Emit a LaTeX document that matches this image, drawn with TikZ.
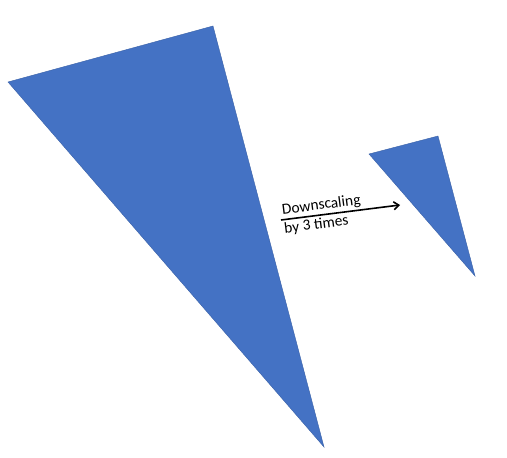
\documentclass[tikz,border=0pt]{standalone}
\usepackage{fontspec}
\setmainfont{Carlito}
\usetikzlibrary{arrows.meta}
\definecolor{triblue}{RGB}{68, 114, 196}

\begin{document}
\begin{tikzpicture}[
    x=1bp, y=-1bp,
    triangle/.style={fill=triblue, draw=triblue!85!black, line width=0.4bp, line join=miter},
    arrow/.style={-{Straight Barb[length=5bp, width=8bp]}, line width=1.6bp, draw=black},
    steplabel/.style={font=\fontsize{15.5}{17}\selectfont, inner xsep=1.5bp, inner ysep=2bp}
]

% === Canvas ===
\useasboundingbox (0, 0) rectangle (507, 458);

% === Original triangle (large) ===
\draw[triangle] (8, 82) -- (213, 26) -- (324, 447) -- cycle;

% === Downscaled triangle (small) ===
\draw[triangle] (369, 154) -- (438, 136) -- (475, 276) -- cycle;

% === Arrow with label ===
\coordinate (arrowstart) at (281, 220);
\coordinate (arrowend) at (400, 205);
\draw[arrow] (arrowstart) -- (arrowend)
    node[steplabel, pos=0, sloped, anchor=south west] (downlabel) {Downscaling}
    node[steplabel, pos=0, sloped, anchor=north west] (bylabel) {by 3 times};

\end{tikzpicture}
\end{document}
